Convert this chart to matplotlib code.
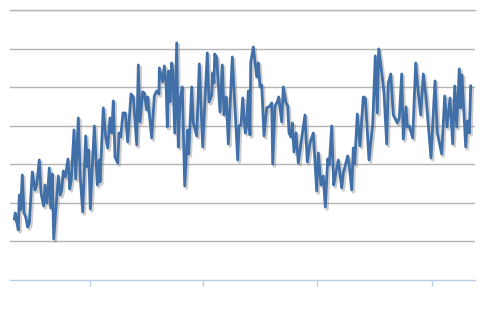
import matplotlib
matplotlib.use("Agg")
import matplotlib.pyplot as plt
import matplotlib.patheffects as pe
import numpy as np

# x positions (time, arbitrary axis units) and values (axis units, gridline step 270/7)
x_vals = [14.3, 15.3, 16.3, 18.3, 19.3, 20.7, 22.3, 24, 25.7, 27.7, 29.3, 32.3, 35, 36.7, 39.3, 41, 43.7, 45, 47, 49.3,
          50.7, 52.3, 53.7, 56, 58.3, 60.3, 61.7, 63.3, 65.3, 68, 69.7, 71.3, 74, 75.7, 78.3, 80.3, 82.7, 85.7, 87.3, 88.7,
          90.3, 94.3, 97.3, 99.3, 100, 103.3, 105.7, 107.7, 110, 111.7, 113.3, 115, 117.7, 119, 120.7, 123, 125.3, 127.7, 131, 133.3,
          136.7, 138.3, 140, 142.7, 144.3, 146.7, 147.7, 151.7, 154.3, 156.7, 159, 159.3, 162.7, 164.3, 166, 167.3, 168.7,
          170, 171.7, 172.7, 174.7, 176.7, 178.3, 180, 182.3, 184.7, 187.7, 188.7, 191.7, 193.3, 196.7, 199.3, 202.7, 207.3, 209, 211.7, 212.7,
          214, 214.7, 216.7, 220, 222.3, 224, 226.3, 228.3, 232.3, 237.7, 239, 241, 242.7, 245.3, 246.7, 248.3, 250, 250.7, 253.3, 256.7,
          258.3, 260, 261.7, 264, 266.7, 270, 271.7, 272.7, 275, 277.3, 278.7, 281.7, 283.3, 286, 287.7, 289, 291, 292.3, 294, 296,
          298.3, 301.7, 305, 307.3, 310, 313.3, 316.7, 318.3, 321, 323.3, 325.3, 327.7, 329.3,
          331.7, 333.7, 336, 338.3, 341.7, 343.3, 347.7, 349, 351.7, 353.3, 354.7, 357.3, 360, 363.3, 365.3, 369, 372.7, 375.3, 377.3, 378.7,
          382, 384, 386.7, 388.3, 390.7, 393.3, 397.3, 399.3, 401.7, 403.3, 406, 407.3, 409.3, 412.7, 415.7, 418, 420.7, 423.3, 426, 431,
          435, 437.3, 441.7, 444.7, 447, 450, 452.7, 454.7, 456.7, 459.3, 460.7, 462, 465.7, 467.3, 469.3, 470.7]
y_vals = [61, 67, 60, 50, 85, 70, 105, 67, 63, 53, 57, 108, 90, 95, 120, 87, 74, 95, 77, 112,
          72, 106, 41, 73, 104, 85, 90, 109, 103, 121, 91, 100, 150, 101, 162, 102, 68, 144, 113, 130,
          71, 154, 95, 120, 98, 172, 143, 132, 162, 147, 179, 123, 117, 147, 143, 167, 167, 138, 186, 183,
          135, 215, 158, 188, 187, 170, 183, 142, 184, 189, 186, 212, 198, 214, 198, 153, 209,
          178, 217, 210, 147, 237, 133, 180, 193, 94, 150, 126, 193, 157, 144, 216, 133, 227, 178, 185, 207,
          197, 226, 222, 168, 215, 165, 183, 136, 223, 120, 154, 155, 182, 147, 154, 189, 145, 217, 233, 203,
          217, 193, 195, 144, 172, 174, 177, 116, 174, 178, 183, 158, 193, 177, 174, 147, 143, 157, 128, 147,
          117, 142, 165, 118, 137, 147, 89, 127, 95, 104, 73, 121, 115,
          154, 95, 108, 120, 92, 107, 124, 117, 90, 132, 116, 166, 134, 183, 182, 120, 156, 224, 167, 231,
          205, 187, 136, 197, 206, 165, 157, 162, 206, 141, 173, 153, 154, 142, 217, 190, 165, 206, 183, 122,
          199, 147, 126, 184, 153, 182, 136, 194, 153, 211, 172, 205, 133, 159, 147, 194]

x_ticks = [90, 203, 317, 432]
grid_levels = np.linspace(0, 270, 8)

fig = plt.figure(figsize=(5, 3.2), dpi=100)
ax = fig.add_axes([0.02, 0.125, 0.93, 0.844])

ax.plot(x_vals, y_vals, color='#4170A8', lw=2.0, solid_joinstyle='round', zorder=3,
        path_effects=[pe.SimpleLineShadow(offset=(1.2, -1.5), shadow_color='#707070', alpha=0.35, linewidth=2.4),
                      pe.Normal()])

ax.set_xlim(10, 475)
ax.set_ylim(0, 270)
ax.set_yticks(grid_levels[1:])
ax.yaxis.grid(True, color='#B4B4B4', lw=1.0)
ax.set_axisbelow(True)
ax.tick_params(axis='y', left=False, labelleft=False)
ax.set_xticks(x_ticks)
ax.tick_params(axis='x', direction='out', length=4, width=1, color='#B9CDE5', labelbottom=False)
for s in ['left', 'right', 'top']:
    ax.spines[s].set_visible(False)
ax.spines['bottom'].set_color('#B9CDE5')
ax.spines['bottom'].set_linewidth(1.0)
# top gridline
ax.axhline(270, color='#B4B4B4', lw=1.0, zorder=0, clip_on=False)

fig.savefig('out.png', dpi=100, facecolor='white')
